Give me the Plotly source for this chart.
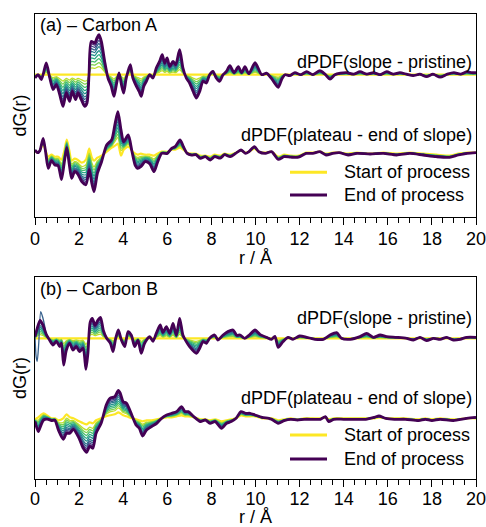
import plotly.graph_objects as go
from plotly.colors import sample_colorscale

# ---------------- data (dG in a.u.) ----------------
# (a) Carbon A, dPDF(slope - pristine)
a1_r = [0.00, 0.14, 0.29, 0.51, 0.67, 0.82, 0.97, 1.12, 1.27, 1.42,
        1.57, 1.69, 1.84, 1.95, 2.10, 2.25, 2.36, 2.45, 2.55, 2.71,
        2.81, 2.90, 3.01, 3.16, 3.31, 3.46, 3.58, 3.69, 3.81, 3.92,
        4.02, 4.14, 4.32, 4.44, 4.60, 4.72, 4.82, 4.93, 5.05, 5.20,
        5.35, 5.50, 5.65, 5.77, 5.88, 5.99, 6.11, 6.26, 6.38, 6.56,
        6.71, 6.86, 7.01, 7.17, 7.32, 7.47, 7.62, 7.77, 7.92, 8.07,
        8.22, 8.37, 8.53, 8.68, 8.84, 9.03, 9.22, 9.37, 9.52, 9.70,
        9.98, 10.28, 10.50, 10.73, 11.03, 11.20, 11.34, 11.55, 11.79, 12.05,
        12.32, 12.60, 12.92, 13.15, 13.38, 13.60, 13.85, 14.14, 14.45, 14.74,
        15.05, 15.35, 15.65, 15.95, 16.25, 16.55, 16.85, 17.15, 17.45, 17.76,
        18.05, 18.37, 18.70, 19.00, 19.30, 19.58, 19.80, 20.00]
a1_end = [-3.3, 0.0, -5.0, 11.7, -3.3, -15.0, -10.0, -20.0, -31.7, -18.3,
          -26.7, -16.7, -25.0, -18.3, -25.0, -31.7, -28.3, 0.0, 33.3, 31.7,
          36.7, 40.0, 33.3, 13.3, -3.3, -11.7, -21.7, -10.0, 1.7, -10.0,
          -18.3, -3.3, 10.0, -3.3, -11.7, -16.7, -21.7, -11.7, -6.7, 0.0,
          -3.3, 6.7, 13.3, 20.0, 11.7, 16.7, 8.3, 13.3, 10.0, 25.0,
          6.7, -3.3, -8.3, -16.7, -23.3, -16.7, -6.7, -8.3, 0.0, 3.3,
          -3.3, -6.7, 0.0, 3.3, 9.0, 2.0, 8.0, 2.0, 8.0, 1.0,
          12.0, 0.0, 1.5, -4.0, -12.7, -4.0, 0.0, -1.0, 2.0, 0.0,
          3.0, 0.0, 4.0, 0.5, -4.5, 0.0, 1.5, 2.0, 0.5, 3.0,
          0.5, 2.0, 0.0, 3.0, 0.5, 2.0, 0.5, -1.0, 0.5, -2.0,
          0.5, -2.5, 0.5, 2.0, 0.5, 3.0, 2.0, 2.0]
a1_start = [0.0] * len(a1_r)

# (a) Carbon A, dPDF(plateau - end of slope)
a2_r = [0.00, 0.12, 0.22, 0.37, 0.48, 0.60, 0.75, 0.90, 1.05, 1.20,
        1.32, 1.44, 1.55, 1.66, 1.80, 1.93, 2.12, 2.31, 2.46, 2.58,
        2.68, 2.83, 3.02, 3.25, 3.48, 3.63, 3.76, 3.90, 4.02, 4.23,
        4.40, 4.55, 4.65, 4.80, 5.00, 5.20, 5.40, 5.55, 5.75, 6.00,
        6.20, 6.35, 6.58, 6.73, 6.90, 7.10, 7.30, 7.50, 7.72, 7.95,
        8.15, 8.40, 8.60, 8.85, 9.10, 9.34, 9.55, 9.70, 9.95, 10.15,
        10.45, 10.73, 11.03, 11.30, 11.60, 11.95, 12.30, 12.60, 12.92, 13.20,
        13.50, 13.80, 14.20, 14.60, 15.20, 15.80, 16.40, 17.00, 17.60, 18.20,
        18.80, 19.20, 19.60, 20.00]
a2_end = [1.7, -1.0, 1.0, 13.4, 0.0, -16.7, -9.0, -13.3, -14.0, -28.0,
          -12.0, 4.0, -12.0, -26.6, -20.0, -22.0, -30.0, -33.0, -18.0, -32.0,
          -40.0, -21.7, -10.0, 6.7, 12.0, 28.0, 40.0, 22.0, 10.0, 16.7,
          0.0, -14.0, -16.6, -15.0, -10.0, -12.0, -20.0, -11.0, -1.7, -1.7,
          3.4, 5.0, 11.7, 5.0, -1.7, -3.4, -3.0, -6.7, -5.0, -8.3,
          -5.0, -6.5, -3.0, -5.0, -1.7, 1.7, -1.7, 0.0, 5.0, 0.0,
          -1.7, 0.0, -7.7, -5.0, -5.5, -5.5, -1.7, -1.7, 0.0, -3.3,
          -1.7, -1.0, -3.3, -1.7, -2.3, -1.7, -3.3, -1.7, -3.3, -5.0,
          -5.7, -3.3, -1.7, -1.0]
a2_start = [1.0, -1.0, 1.0, 8.0, 1.0, -5.0, -3.0, -5.0, -5.0, -8.0,
            0.0, 12.0, 2.0, -9.0, -7.0, -8.0, -11.0, -8.0, 3.0, -6.0,
            -9.0, -6.0, -4.0, 0.0, 4.0, 6.0, 8.0, -4.0, 2.0, 5.0,
            1.0, -2.0, -3.0, -2.0, -3.0, -3.0, -4.0, -2.0, 0.0, 0.0,
            2.0, 2.0, 4.0, 2.0, -1.0, -2.0, -2.0, -4.0, -4.0, -5.0,
            -3.0, -4.0, -2.0, -3.0, -1.0, 1.0, -1.0, 0.0, 3.0, 0.0,
            -1.0, 0.0, -5.0, -3.0, -4.0, -4.0, -1.0, -1.0, 0.0, -2.0,
            -1.0, -1.0, -2.0, -1.0, -2.0, -1.0, -2.0, -1.0, -2.0, -3.0,
            -4.0, -2.0, -1.0, -1.0]

# (b) Carbon B, dPDF(slope - pristine)
b1_r = [0.00, 0.10, 0.23, 0.35, 0.51, 0.66, 0.82, 0.97, 1.12, 1.20,
        1.30, 1.42, 1.57, 1.72, 1.87, 2.02, 2.18, 2.31, 2.40, 2.50,
        2.60, 2.72, 2.85, 2.97, 3.10, 3.25, 3.42, 3.54, 3.66, 3.78,
        3.92, 4.07, 4.22, 4.37, 4.52, 4.67, 4.82, 4.97, 5.20, 5.35,
        5.50, 5.68, 5.80, 5.96, 6.11, 6.26, 6.41, 6.56, 6.71, 6.86,
        7.01, 7.32, 7.47, 7.62, 7.77, 7.92, 8.15, 8.30, 8.53, 8.75,
        8.98, 9.15, 9.30, 9.50, 9.70, 9.98, 10.20, 10.50, 10.73, 10.88,
        11.03, 11.25, 11.48, 11.70, 12.00, 12.32, 12.70, 13.08, 13.38, 13.68,
        13.90, 14.30, 14.74, 15.04, 15.35, 15.65, 15.95, 16.40, 16.86, 17.16,
        17.46, 17.76, 18.07, 18.37, 18.67, 18.97, 19.28, 19.58, 20.00]
b1_end = [1.7, 10.0, 18.0, 14.0, 4.0, -1.7, -6.7, -3.0, -8.3, -5.0,
          -26.7, -12.0, -5.0, -11.7, -8.3, -13.3, -10.0, -31.0, -15.0, 16.0,
          20.0, 13.0, 18.0, 21.0, 8.0, 0.0, -5.0, -13.3, 0.0, 8.3,
          -2.0, -8.3, 6.7, 3.0, -8.3, -2.0, -15.0, -5.0, 1.7, -3.0,
          5.0, 13.3, 6.0, 11.7, 5.0, 15.0, 3.0, 20.0, 3.0, -3.3,
          -8.3, -15.0, -10.0, -3.3, -5.0, 0.0, 3.3, -1.7, 3.3, 6.7,
          8.3, 3.0, 3.3, 0.0, 3.0, 8.3, 4.0, 1.0, -1.0, 2.0,
          -9.0, -3.3, 1.0, -1.0, 2.3, 1.0, -1.0, -1.0, 3.3, 5.7,
          0.0, -1.0, 1.7, 5.0, 1.0, 3.3, 1.7, 1.0, 0.0, -1.7,
          1.0, -2.3, 0.0, -1.0, 1.0, -1.7, -1.0, 1.0, 1.0]
b1_start = [0.0] * len(b1_r)
# one intermediate (blue) scan deviates strongly at very short r
b1_blue_r = [0.00, 0.05, 0.10, 0.17, 0.26, 0.35, 0.45]
b1_blue = [1.7, -18.0, -23.0, -5.0, 26.7, 21.0, 11.0]

# (b) Carbon B, dPDF(plateau - end of slope)
b2_r = [0.00, 0.15, 0.25, 0.39, 0.60, 0.75, 0.90, 1.06, 1.28, 1.43,
        1.58, 1.74, 2.00, 2.19, 2.34, 2.48, 2.62, 2.77, 3.00, 3.23,
        3.40, 3.62, 3.78, 3.87, 4.00, 4.15, 4.39, 4.58, 4.73, 4.88,
        5.06, 5.29, 5.52, 5.74, 5.97, 6.20, 6.42, 6.65, 6.80, 6.95,
        7.20, 7.50, 7.72, 7.94, 8.17, 8.46, 8.69, 8.90, 9.12, 9.34,
        9.55, 9.75, 9.98, 10.30, 10.60, 10.73, 11.03, 11.30, 11.60, 11.90,
        12.20, 12.60, 12.95, 13.17, 13.32, 13.55, 14.00, 14.50, 15.00, 15.40,
        15.60, 15.90, 16.30, 16.80, 17.40, 17.70, 18.00, 18.37, 18.97, 19.58,
        20.00]
b2_end = [-3.3, -13.3, -8.0, -1.7, -1.0, -2.3, -2.0, -11.7, -21.0, -15.0,
          -15.0, -11.0, -20.0, -30.0, -34.0, -28.0, -30.0, -15.0, -5.0, 13.3,
          20.0, 21.7, 28.0, 25.0, 16.7, 15.0, 3.3, -6.7, -10.0, -17.7,
          -11.7, -8.3, -5.0, 0.0, 3.3, 5.0, 6.7, 11.7, 6.7, 6.7,
          1.7, -3.3, -1.7, -5.0, -3.3, -10.0, -5.0, -3.3, 0.0, 6.7,
          5.0, 5.0, 3.3, 1.0, 0.0, -1.0, -5.0, -2.3, -1.0, -1.7,
          -1.0, -1.0, -1.0, 1.7, -3.3, -1.0, -1.0, -1.0, -1.0, 1.0,
          2.3, 0.0, -1.0, -1.0, -2.3, -1.0, -2.3, -1.0, -2.3, 0.0,
          1.0]
b2_start = [-1.0, 1.0, 3.0, 5.0, 2.0, 0.0, 0.0, -2.0, 0.0, 4.0,
            1.0, 0.0, -3.0, -5.0, -6.0, -4.0, -5.0, -2.0, 0.0, 2.0,
            3.0, 4.0, 6.0, 5.0, 3.0, 2.0, 0.0, -1.0, -2.0, -3.0,
            -2.0, -2.0, -1.0, 0.0, 1.0, 1.0, 2.0, 3.0, 2.0, 2.0,
            1.0, -1.0, -1.0, -2.0, -1.0, -3.0, -2.0, -1.0, 0.0, 3.0,
            2.0, 2.0, 2.0, 0.0, 0.0, 0.0, -2.0, -1.0, 0.0, -1.0,
            0.0, 0.0, 0.0, 1.0, -1.0, 0.0, 0.0, 0.0, 0.0, 0.0,
            1.0, 0.0, 0.0, 0.0, -1.0, 0.0, -1.0, 0.0, -1.0, 0.0,
            0.0]

stages = [0.0, 0.2, 0.3, 0.4, 0.5, 0.6, 0.7, 0.78, 0.86, 0.93, 1.0]
blue_stage_index = 7

panel_labels = ["(a) \u2013 Carbon A", "(b) \u2013 Carbon B"]
group_labels = ["dPDF(slope - pristine)", "dPDF(plateau - end of slope)"]
legend_labels = ["Start of process", "End of process"]
x_ticks = [0, 2, 4, 6, 8, 10, 12, 14, 16, 18, 20]

# ---------------- figure ----------------
for arr_r, arrs in [(a1_r, [a1_end, a1_start]), (a2_r, [a2_end, a2_start]),
                    (b1_r, [b1_end, b1_start]), (b2_r, [b2_end, b2_start])]:
    for a in arrs:
        if len(a) != len(arr_r):
            raise ValueError(f"length mismatch {len(a)} vs {len(arr_r)}")

FONT = "Arial, Liberation Sans, sans-serif"
n = len(stages)
colors = sample_colorscale("Viridis", [1 - i / (n - 1) for i in range(n)])

fig = go.Figure()

panels = [
    dict(xa="x", ya="y",
         groups=[(a1_r, a1_start, a1_end, 142.3, None),
                 (a2_r, a2_start, a2_end, 65.3, None)]),
    dict(xa="x2", ya="y2",
         groups=[(b1_r, b1_start, b1_end, 140.7, (b1_blue_r, b1_blue)),
                 (b2_r, b2_start, b2_end, 60.7, None)]),
]

for p in panels:
    for gi, (rr, st, en, off, special) in enumerate(p["groups"]):
        for k, f in enumerate(stages):
            xs = list(rr)
            ys = [off + s + f * (e - s) for s, e in zip(st, en)]
            if special is not None and k == blue_stage_index:
                sr, sv = special
                keep = [i for i, r in enumerate(rr) if r > sr[-1]]
                xs = list(sr) + [rr[i] for i in keep]
                ys = [off + v for v in sv] + [ys[i] for i in keep]
            if k == 0:
                width = 2.2
            elif k == n - 1:
                width = 2.8
            else:
                width = 1.3
            fig.add_trace(go.Scatter(
                x=xs, y=ys, mode="lines", xaxis=p["xa"], yaxis=p["ya"],
                line=dict(color=colors[k], width=width, shape="spline", smoothing=0.7),
                showlegend=False, hoverinfo="skip"))

H_PLOT = 465.0
def py(ypx):
    return (479.0 - ypx) / H_PLOT

def pxx(xpx):
    return (xpx - 35.0) / 441.0

axis_line = dict(showline=True, linecolor="black", linewidth=1.3, mirror=True,
                 showgrid=False, zeroline=False, automargin=False)
xcommon = dict(axis_line, range=[0, 20], tickmode="array", tickvals=x_ticks,
               ticktext=[str(t) for t in x_ticks], ticks="outside", ticklen=7,
               tickwidth=1.3, tickcolor="black", ticklabeloverflow="allow",
               minor=dict(dtick=0.5, tick0=0, ticks="outside", ticklen=5,
                          tickwidth=1.3, tickcolor="black", showgrid=False),
               tickfont=dict(family=FONT, size=18, color="black"))
ycommon = dict(axis_line, showticklabels=False, ticks="")

fig.update_layout(
    width=486, height=527,
    margin=dict(l=35, r=10, t=14, b=48, autoexpand=False),
    paper_bgcolor="white", plot_bgcolor="white",
    font=dict(family=FONT, size=18, color="black"),
    xaxis=dict(xcommon, domain=[0, 1], anchor="y", ticklabelstandoff=-2),
    yaxis=dict(ycommon, domain=[py(217), 1.0], range=[0, 203], anchor="x"),
    xaxis2=dict(xcommon, domain=[0, 1], anchor="y2", ticklabelstandoff=-4),
    yaxis2=dict(ycommon, domain=[0, py(277)], range=[0, 202], anchor="x2"),
    showlegend=False,
)

ann = []
ann.append(dict(text=panel_labels[0], x=pxx(38), y=py(25), xanchor="left", yanchor="middle"))
ann.append(dict(text=panel_labels[1], x=pxx(38), y=py(289), xanchor="left", yanchor="middle"))
ann.append(dict(text=group_labels[0], x=pxx(474), y=py(62), xanchor="right", yanchor="middle"))
ann.append(dict(text=group_labels[1], x=pxx(474), y=py(135), xanchor="right", yanchor="middle"))
ann.append(dict(text=group_labels[0], x=pxx(474), y=py(318), xanchor="right", yanchor="middle"))
ann.append(dict(text=group_labels[1], x=pxx(474), y=py(398), xanchor="right", yanchor="middle"))
ann.append(dict(text="dG(r)", x=pxx(20), y=py(115.5), xanchor="center", yanchor="middle", textangle=-90))
ann.append(dict(text="dG(r)", x=pxx(20), y=py(378), xanchor="center", yanchor="middle", textangle=-90))
ann.append(dict(text="r / \u00c5", x=pxx(255.5), y=py(258), xanchor="center", yanchor="middle"))
ann.append(dict(text="r / \u00c5", x=pxx(255.5), y=py(516.5), xanchor="center", yanchor="middle"))

# legend keys (one block per panel)
shapes = []
for ys_, yl_ in [(172.3, 195.0), (435.0, 459.0)]:
    for ypix, col, lab in [(ys_, colors[0], legend_labels[0]),
                           (yl_, colors[-1], legend_labels[1])]:
        shapes.append(dict(type="line", xref="paper", yref="paper",
                           x0=pxx(290), x1=pxx(327), y0=py(ypix), y1=py(ypix),
                           line=dict(color=col, width=3)))
        ann.append(dict(text=lab, x=pxx(342), y=py(ypix), xanchor="left", yanchor="middle"))

for a in ann:
    a.update(xref="paper", yref="paper", showarrow=False,
             font=dict(family=FONT, size=18, color="black"))
fig.update_layout(annotations=ann, shapes=shapes)

fig.write_html("out.html")
